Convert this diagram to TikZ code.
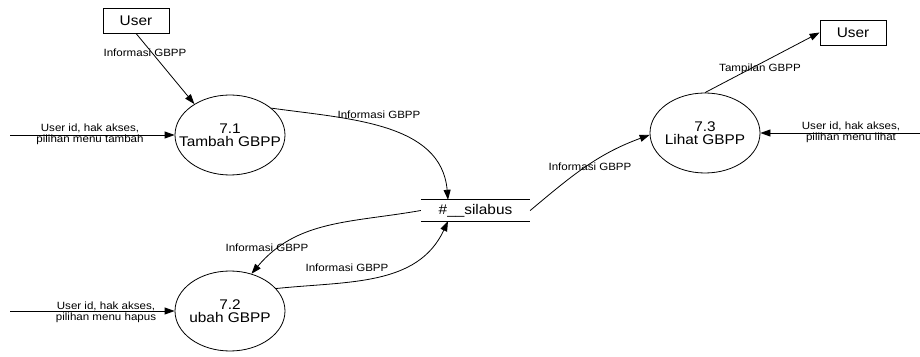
\documentclass[tikz,border=0pt]{standalone}
\usepackage{fontspec}
\setmainfont{Liberation Sans}[FakeStretch=1.1]
\usetikzlibrary{arrows.meta,shapes.geometric}

\begin{document}
\begin{tikzpicture}[x=1pt,y=1pt,
  proc/.style={draw,ellipse,minimum width=110pt,minimum height=80pt,inner sep=0pt,line width=0.8pt},
  ent/.style={draw,rectangle,minimum width=66pt,minimum height=25pt,inner sep=0pt,line width=0.8pt,font=\fontsize{14}{14}\selectfont},
  store/.style={rectangle,minimum width=109pt,minimum height=21pt,inner sep=0pt,font=\fontsize{14}{14}\selectfont},
  flow/.style={-{Triangle[length=10pt,width=7pt]},line width=0.8pt},
  lbl/.style={font=\fontsize{10.5}{11}\selectfont,align=center,inner sep=0pt},
  ptxt/.style={font=\fontsize{14}{13}\selectfont,align=center}]
\useasboundingbox (0,0) rectangle (920,356);
% entities and processes
\node[ent] (user1) at (136,335.5) {User};
\node[ent] (user2) at (853,323.5) {User};
\node[proc,label={[ptxt]center:{7.1\\Tambah GBPP}}] (p1) at (230,221) {};
\node[proc,label={[ptxt]center:{7.2\\ubah GBPP}}] (p2) at (230,45) {};
\node[proc,label={[ptxt]center:{7.3\\Lihat GBPP}}] (p3) at (705,223) {};
% data store
\node[store] (silabus) at (475.5,145.5) {\#\_\_silabus};
\draw[line width=0.8pt] (silabus.north west) -- (silabus.north east);
\draw[line width=0.8pt] (silabus.south west) -- (silabus.south east);
% free ends
\coordinate (in1) at (10,221);
\coordinate (in2) at (10,45);
\coordinate (in3) at (920,223);
% flows
\draw[flow] (user1.south) -- (p1.139);
\draw[flow] (in1) -- (p1.west);
\draw[flow] (in2) -- (p2.west);
\draw[flow] (in3) -- (p3.east);
\draw[flow] (p3.north) -- (user2.west);
\draw[flow] (p1.33) to[out=-8,in=95] ([xshift=-27.5pt]silabus.north);
\draw[flow] (silabus.east) to[out=40,in=200] (p3.182);
\draw[flow] (silabus.west) to[out=190,in=50] (p2.60);
\draw[flow] (p2.26) to[out=6,in=-115] ([xshift=-27.5pt]silabus.south);
% labels
\node[lbl] (l1) at (145,303) {Informasi GBPP};
\node[lbl] (l2) at (379,241) {Informasi GBPP};
\node[lbl] (l3) at (590,189) {Informasi GBPP};
\node[lbl] (l4) at (267,108) {Informasi GBPP};
\node[lbl] (l5) at (347,88) {Informasi GBPP};
\node[lbl] (l6) at (760,287) {Tampilan GBPP};
\node[lbl] (li1) at (90,222) {User id, hak akses,\\pilihan menu tambah};
\node[lbl] (li2) at (106,44) {User id, hak akses,\\pilihan menu hapus};
\node[lbl] (li3) at (851,223.5) {User id, hak akses,\\pilihan menu lihat};
\end{tikzpicture}
\end{document}
